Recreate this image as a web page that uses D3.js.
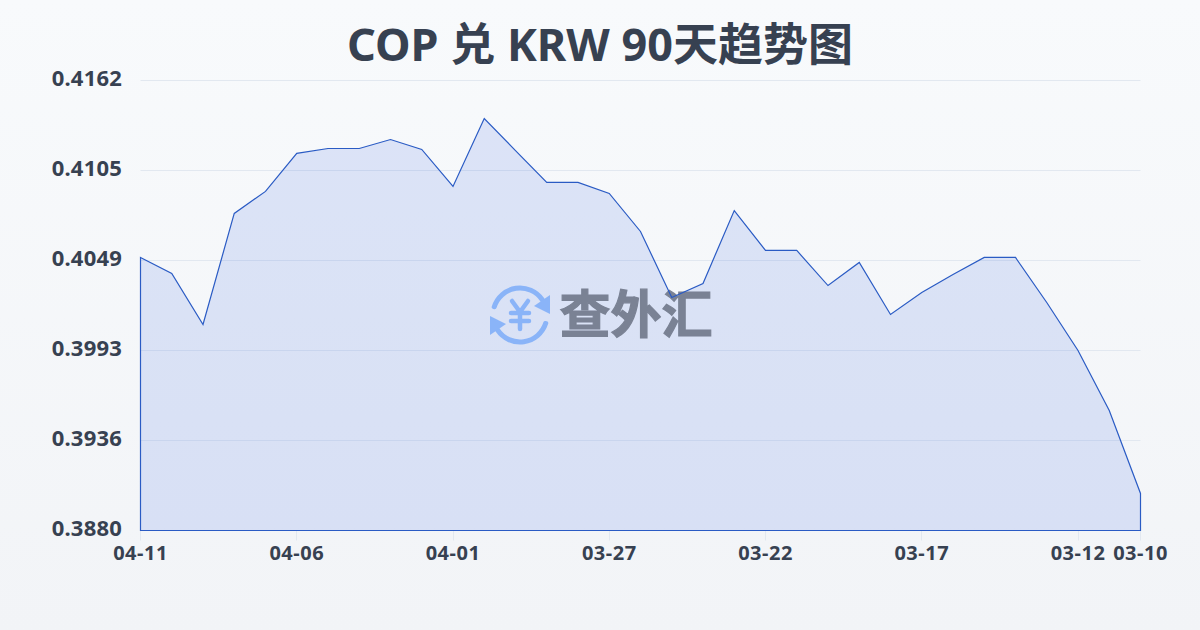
<!DOCTYPE html>
<html lang="en">
<head>
<meta charset="utf-8">
<title>COP 兑 KRW 90天趋势图</title>
<script src="https://cdn.jsdelivr.net/npm/d3@7"></script>
<style>
html, body { margin: 0; padding: 0; }
#chart text { font-family: "Noto Sans", "Noto Sans CJK SC", sans-serif; font-weight: 700; fill: #374151; }
</style>
</head>
<body>
<div id="chart"></div>
<script>
var title = "COP 兑 KRW 90天趋势图";
var rates = [0.40511, 0.40411, 0.40091, 0.40787, 0.40925, 0.41163, 0.41194, 0.41194, 0.41250, 0.41188, 0.40956,
             0.41382, 0.41181, 0.40981, 0.40981, 0.40912, 0.40674, 0.40260, 0.40348, 0.40805, 0.40555, 0.40555,
             0.40335, 0.40480, 0.40154, 0.40292, 0.40404, 0.40511, 0.40511, 0.40229, 0.39928, 0.39552, 0.39032];
var yTicks = [0.38800, 0.39364, 0.39928, 0.40492, 0.41056, 0.41620];
var yTickLabels = ["0.3880", "0.3936", "0.3993", "0.4049", "0.4105", "0.4162"];
var xTickIndex = [0, 5, 10, 15, 20, 25, 30, 32];
var xTickLabels = ["04-11", "04-06", "04-01", "03-27", "03-22", "03-17", "03-12", "03-10"];

var width = 1200, height = 630;
var margin = {top: 80.5, right: 59.5, bottom: 99.5, left: 140.5};

var svg = d3.select("#chart").append("svg")
    .attr("width", width).attr("height", height)
    .style("display", "block");

var defs = svg.append("defs");
var bg = defs.append("linearGradient").attr("id", "bg").attr("x1", 0).attr("y1", 0).attr("x2", 0).attr("y2", 1);
bg.append("stop").attr("offset", 0).attr("stop-color", "#f8fafc");
bg.append("stop").attr("offset", 1).attr("stop-color", "#f2f4f7");

svg.append("rect").attr("width", width).attr("height", height).attr("fill", "url(#bg)");

var x = d3.scaleLinear().domain([0, rates.length - 1]).range([margin.left, width - margin.right]);
var y = d3.scaleLinear().domain([0.3880, 0.4162]).range([height - margin.bottom, margin.top]);

svg.append("text")
    .attr("x", 600).attr("y", 61)
    .attr("text-anchor", "middle")
    .style("font-size", "45px")
    .text(title);

// grid lines and y labels
var yAxis = svg.append("g").selectAll("g").data(yTicks).enter().append("g");
yAxis.append("line")
    .attr("x1", margin.left).attr("x2", width - margin.right)
    .attr("y1", function(d) { return Math.round(y(d) - 0.5) + 0.5; })
    .attr("y2", function(d) { return Math.round(y(d) - 0.5) + 0.5; })
    .attr("stroke", "#e2e8f0").attr("stroke-width", 1);
yAxis.append("text")
    .attr("x", 122).attr("y", function(d) { return y(d) + 5; })
    .attr("text-anchor", "end")
    .style("font-size", "22px")
    .style("letter-spacing", "0.2px")
    .text(function(d, i) { return yTickLabels[i]; });

// x ticks and labels
var xAxis = svg.append("g").selectAll("g").data(xTickIndex).enter().append("g");
xAxis.append("line")
    .attr("x1", function(d) { return Math.round(x(d) - 0.5) + 0.5; })
    .attr("x2", function(d) { return Math.round(x(d) - 0.5) + 0.5; })
    .attr("y1", height - margin.bottom).attr("y2", height - margin.bottom + 10)
    .attr("stroke", "#e2e8f0");
xAxis.append("text")
    .attr("x", function(d) { return x(d); }).attr("y", 560)
    .attr("text-anchor", "middle")
    .style("font-size", "20px")
    .style("letter-spacing", "0.5px")
    .text(function(d, i) { return xTickLabels[i]; });

var area = d3.area()
    .x(function(d, i) { return x(i); })
    .y0(height - margin.bottom)
    .y1(function(d) { return y(d); });

svg.append("path")
    .attr("d", area(rates))
    .attr("fill", "#2558e0").attr("fill-opacity", 0.13);

// watermark logo
var logo = svg.append("g").attr("transform", "translate(520,315)");
var logoBlue = "#8ab4f8";
var arcGen = d3.arc().innerRadius(24.5).outerRadius(29.5).cornerRadius(2);
logo.append("path").attr("fill", logoBlue)
    .attr("d", arcGen({startAngle: -1.35, endAngle: 1.05}));
logo.append("path").attr("fill", logoBlue)
    .attr("d", arcGen({startAngle: 1.8, endAngle: 4.2}));
logo.append("path").attr("fill", logoBlue).attr("d", "M30,-1 L30,-20 L14,-9 Z");
logo.append("path").attr("fill", logoBlue).attr("d", "M-30,1 L-30,20 L-14,9 Z");
logo.append("path").attr("fill", "none").attr("stroke", logoBlue).attr("stroke-width", 4.5)
    .attr("stroke-linecap", "round").attr("stroke-linejoin", "round")
    .attr("d", "M-8,-14 L0,-3 L8,-14 M0,-3 L0,14 M-9,-2 L9,-2 M-9,6 L9,6");

svg.append("text")
    .attr("x", 636).attr("y", 333)
    .attr("text-anchor", "middle")
    .style("font-size", "51px")
    .style("fill", "#7a8294")
    .style("stroke", "#7a8294")
    .style("stroke-width", 1.2)
    .text("查外汇");

svg.append("path")
    .attr("d", area(rates))
    .attr("fill", "none")
    .attr("stroke", "#2a5bc4").attr("stroke-width", 1.2);
</script>
</body>
</html>
